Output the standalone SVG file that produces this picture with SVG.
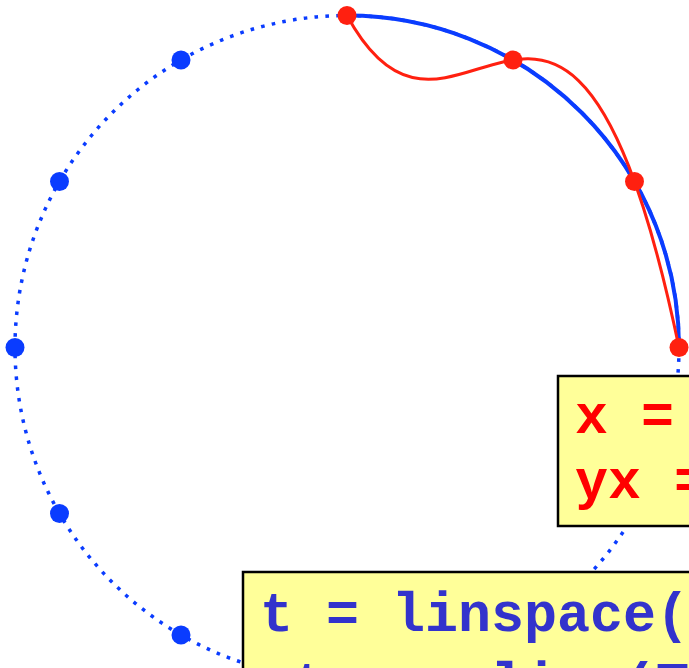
<svg xmlns="http://www.w3.org/2000/svg" width="689" height="668" viewBox="0 0 689 668">
<style>
.dotted{fill:none;stroke:#0a3cff;stroke-width:3.5;stroke-dasharray:0.33 0.67}
.arc{fill:none;stroke:#0a3cff;stroke-width:4}
.interp{fill:none;stroke:#ff2010;stroke-width:3}
.bdot{fill:#0a3cff}
.rdot{fill:#ff2010}
.box{fill:#ffff99;stroke:#000;stroke-width:2.5}
.code{font-family:"Liberation Mono","Courier New",monospace;font-weight:bold;font-size:55px}
.red{fill:#ff0000}
.blue{fill:#3333cc}
</style>
<g id="connectors">
<circle class="dotted" cx="347" cy="347.5" r="332" pathLength="192"/>
<path class="arc" d="M347,15.5 A332,332 0 0 1 679,347.5"/>
<path class="interp" d="M347,15.5 C457.67,219.56 568.33,-180.56 679,347.5"/>
</g>
<g id="blue-points">
<circle class="bdot" cx="181" cy="60" r="9.5"/>
<circle class="bdot" cx="59.5" cy="181.5" r="9.5"/>
<circle class="bdot" cx="15" cy="347.5" r="9.5"/>
<circle class="bdot" cx="59.5" cy="513.5" r="9.5"/>
<circle class="bdot" cx="181" cy="635" r="9.5"/>
</g>
<g id="red-points">
<circle class="rdot" cx="347" cy="15.5" r="9.5"/>
<circle class="rdot" cx="513" cy="60" r="9.5"/>
<circle class="rdot" cx="634.5" cy="181.5" r="9.5"/>
<circle class="rdot" cx="679" cy="347.5" r="9.5"/>
</g>
<g id="box-xy">
<rect class="box" x="558" y="376" width="150" height="150"/>
<text class="code red" x="575" y="433">x =</text>
<text class="code red" x="575" y="498">yx =</text>
</g>
<g id="box-t">
<rect class="box" x="243" y="572" width="470" height="130"/>
<text class="code blue" x="260" y="631">t = linspace(T</text>
<text class="code blue" x="260" y="701">xt = spline(T</text>
</g>
</svg>
